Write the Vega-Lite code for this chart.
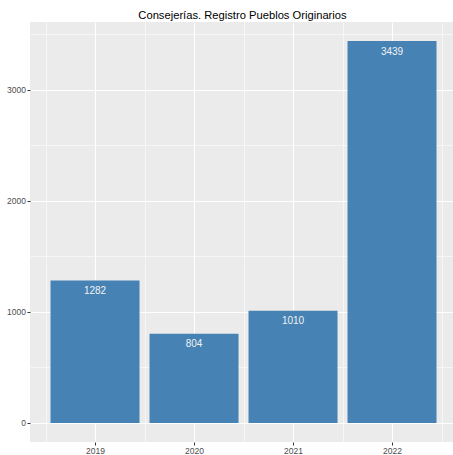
{
  "$schema": "https://vega.github.io/schema/vega-lite/v6.json",
  "width": 423,
  "height": 420,
  "autosize": {"type": "none"},
  "padding": {"left": 30, "top": 22, "right": 0, "bottom": 13},
  "background": "white",
  "title": {
    "text": "Consejerías. Registro Pueblos Originarios",
    "font": "Liberation Sans",
    "fontSize": 11.2,
    "fontWeight": "normal",
    "color": "#000000",
    "anchor": "middle",
    "offset": 1,
    "dx": 1
  },
  "config": {
    "view": {"fill": "#EBEBEB", "stroke": null},
    "axis": {
      "domain": false,
      "gridColor": "#FFFFFF",
      "labelFont": "Liberation Sans",
      "labelFontSize": 8.5,
      "labelColor": "#4D4D4D",
      "tickColor": "#333333",
      "tickSize": 3,
      "labelPadding": 1.5,
      "title": null
    }
  },
  "data": {
    "values": [
      {"year": 2019, "n": 1282},
      {"year": 2020, "n": 804},
      {"year": 2021, "n": 1010},
      {"year": 2022, "n": 3439}
    ]
  },
  "encoding": {
    "x": {
      "field": "year",
      "type": "quantitative",
      "scale": {"domain": [2018.343, 2022.616], "nice": false, "zero": false, "padding": 0},
      "axis": {
        "values": [2018.5, 2019, 2019.5, 2020, 2020.5, 2021, 2021.5, 2022, 2022.5],
        "labelExpr": "datum.value % 1 === 0 ? datum.value : ''",
        "gridWidth": {"condition": {"test": "datum.value % 1 === 0", "value": 1.1}, "value": 0.55},
        "tickOpacity": {"condition": {"test": "datum.value % 1 === 0", "value": 1}, "value": 0},
        "labelFlush": false,
        "labelOverlap": false
      }
    },
    "y": {
      "field": "n",
      "type": "quantitative",
      "scale": {"domain": [-172, 3611], "nice": false, "zero": false, "padding": 0},
      "axis": {
        "values": [0, 500, 1000, 1500, 2000, 2500, 3000, 3500],
        "labelExpr": "datum.value % 1000 === 0 ? datum.value : ''",
        "gridWidth": {"condition": {"test": "datum.value % 1000 === 0", "value": 1.1}, "value": 0.55},
        "tickOpacity": {"condition": {"test": "datum.value % 1000 === 0", "value": 1}, "value": 0},
        "labelOverlap": false
      }
    }
  },
  "layer": [
    {"mark": {"type": "bar", "width": 89, "color": "#4682B4"}},
    {
      "mark": {
        "type": "text",
        "color": "#F2F2F2",
        "font": "Liberation Sans",
        "fontSize": 10,
        "baseline": "middle",
        "dy": 10.5
      },
      "encoding": {"text": {"field": "n", "type": "quantitative", "format": "d"}}
    }
  ]
}
